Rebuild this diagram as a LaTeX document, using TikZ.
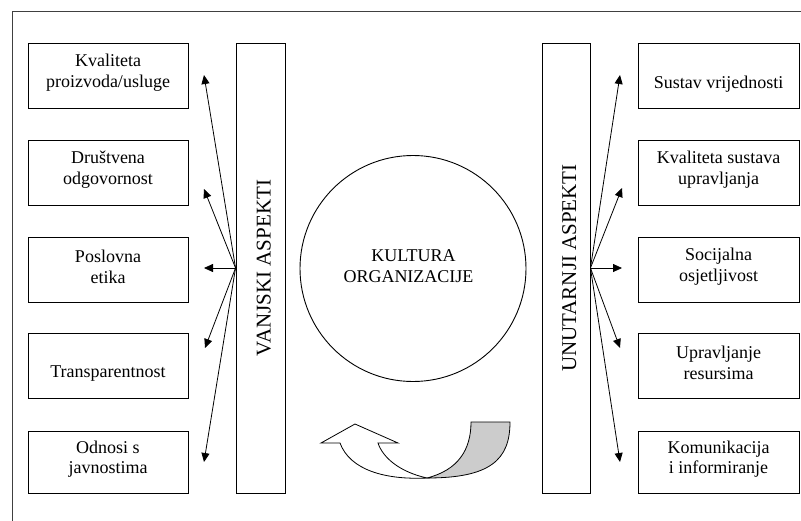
\documentclass[tikz,border=0pt]{standalone}
\usepackage{fontspec}
\setmainfont{Liberation Serif}
\usetikzlibrary{arrows.meta}
\begin{document}
\begin{tikzpicture}[x=1pt,y=-1pt,
  box/.style={draw=black, line width=0.9pt, minimum width=160pt, minimum height=65pt, inner sep=0pt},
  lbl/.style={align=center, font=\fontsize{18}{20.5}\selectfont, inner sep=0pt},
  bar/.style={draw=black, line width=0.9pt, minimum width=49pt, minimum height=450pt, inner sep=0pt},
  bartxt/.style={rotate=90, font=\fontsize{21}{24}\selectfont, inner sep=0pt, text height=20pt, text depth=0pt},
  arr/.style={line width=0.8pt, -{Triangle[length=9pt,width=8pt]}},
  ribbon/.style={line width=0.8pt, draw=black}]
\useasboundingbox (0,0) rectangle (801,520);
\clip (0,0) rectangle (801,520);
% outer frame
\draw[line width=0.9pt, draw=black!75] (12,11) rectangle (815,535);

% left boxes
\node[box, label={[lbl,yshift=2.75pt]center:{Kvaliteta\\proizvoda/usluge}}] (L1) at (108,75.5) {};
\node[box, label={[lbl,yshift=2.75pt]center:{Društvena\\odgovornost}}] (L2) at (108,172.5) {};
\node[box, label={[lbl,yshift=2.75pt]center:{Poslovna\\etika}}] (L3) at (108,269.5) {};
\node[box, label={[lbl,yshift=-8.3pt]center:{Transparentnost}}] (L4) at (108,365.5) {};
\node[box, minimum height=62pt, label={[lbl,yshift=2.75pt]center:{Odnosi s\\javnostima}}] (L5) at (108,462) {};

% right boxes
\node[box, minimum width=161pt, label={[lbl,yshift=-8.3pt]center:{Sustav vrijednosti}}] (R1) at (718.5,75.5) {};
\node[box, minimum width=161pt, label={[lbl,yshift=2.75pt]center:{Kvaliteta sustava\\upravljanja}}] (R2) at (718.5,172.5) {};
\node[box, minimum width=161pt, label={[lbl,yshift=2.75pt]center:{Socijalna\\osjetljivost}}] (R3) at (718.5,269.5) {};
\node[box, minimum width=161pt, label={[lbl,yshift=2.75pt]center:{Upravljanje\\resursima}}] (R4) at (718.5,365.5) {};
\node[box, minimum width=161pt, minimum height=62pt, label={[lbl,yshift=2.75pt]center:{Komunikacija\\i informiranje}}] (R5) at (718.5,462) {};

% bars
\node[bar, label={[bartxt]center:VANJSKI ASPEKTI}] (VB) at (260.5,268) {};
\node[bar, minimum width=48pt, label={[bartxt]center:UNUTARNJI ASPEKTI}] (UB) at (566,268) {};

% circle
\node[draw=black, line width=0.9pt, circle, minimum size=226pt, inner sep=0pt] (C) at (413,268.5) {};
\node[lbl] (CT) at (408.5,266) {\hspace*{10pt}KULTURA\\ORGANIZACIJE};

% arrow tips
\coordinate (tL1) at (204,75);
\coordinate (tL2) at (204,189);
\coordinate (tL3) at (204,268);
\coordinate (tL4) at (205,348);
\coordinate (tL5) at (204,462);
\coordinate (tR1) at (620,75);
\coordinate (tR2) at (622,188);
\coordinate (tR3) at (622,268);
\coordinate (tR4) at (620,348);
\coordinate (tR5) at (620,462);

\foreach \t in {tL1,tL2,tL3,tL4,tL5} \draw[arr] (VB.west) -- (\t);
\foreach \t in {tR1,tR2,tR3,tR4,tR5} \draw[arr] (UB.east) -- (\t);

% curved ribbon arrow
\draw[ribbon, fill=black!20] (471,422) -- (510,422)
  .. controls (510,460) and (490,478) .. (427,478)
  .. controls (458,470) and (471,450) .. (471,422) -- cycle;
\draw[ribbon, fill=white] (427,478)
  .. controls (385,480) and (350,470) .. (340,443)
  -- (321,443) -- (355,424) -- (398,443) -- (378,443)
  .. controls (383,458) and (400,472) .. (427,478) -- cycle;
\end{tikzpicture}
\end{document}
